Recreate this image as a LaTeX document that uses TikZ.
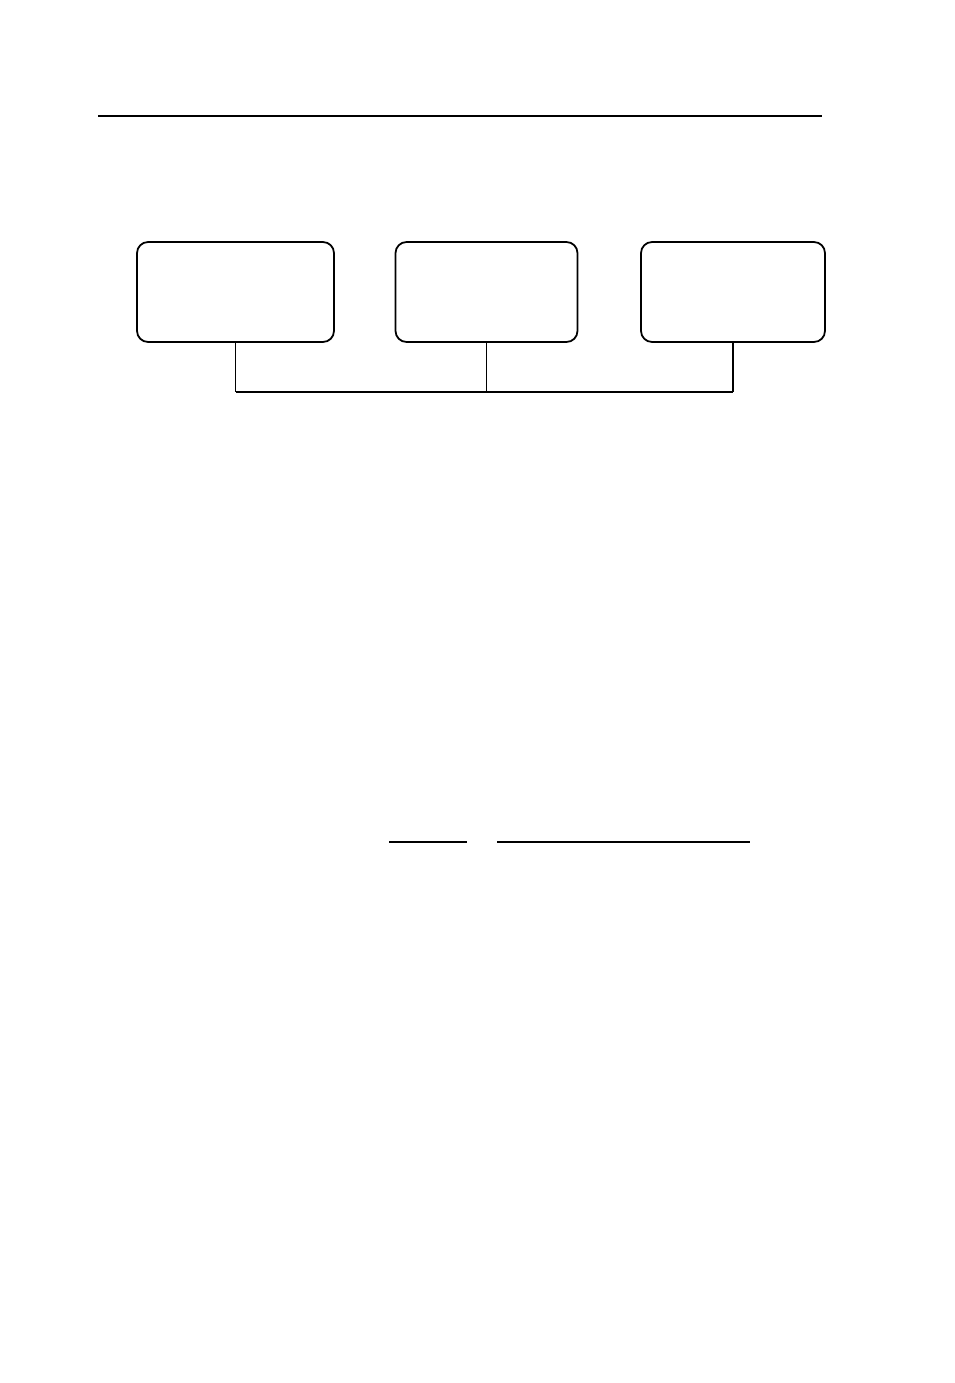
\documentclass[tikz,border=0pt]{standalone}
\usepackage{tikz}
\usetikzlibrary{positioning}

\tikzset{
  unitbox/.style={draw,rounded corners=0.22cm,line width=1pt,inner sep=0pt},
  wire/.style={line width=0.6pt},
  rule/.style={line width=1.1pt}
}

\begin{document}
\begin{tikzpicture}[x=0.02cm,y=-0.02cm]
\useasboundingbox (0,0) rectangle (954,1383);
\node[unitbox,minimum width=3.94cm,minimum height=2.0cm] (A) at (235.5,292) {};
\node[unitbox,minimum width=3.64cm,minimum height=2.0cm] (B) at (486.5,292) {};
\node[unitbox,minimum width=3.68cm,minimum height=2.0cm] (C) at (733,292) {};
\coordinate (A') at (235.5,392);
\coordinate (B') at (486.5,392);
\coordinate (C') at (733,392);
%\coordinate (T) at (96,116);
\coordinate (R1) at (98,116);
\coordinate (R2) at (822,116);
\coordinate (L1) at (389,842);
\coordinate (L2) at (467,842);
\coordinate (L3) at (497,842);
\coordinate (L4) at (750,842);
\path[wire]
(A) edge (A')
(B) edge (B')
(C) edge (C')
(A') edge (C');
\path[rule]
(R1) edge (R2);
\path[wire,line width=0.8pt]
(L1) edge (L2)
(L3) edge (L4);
\end{tikzpicture}
\end{document}
